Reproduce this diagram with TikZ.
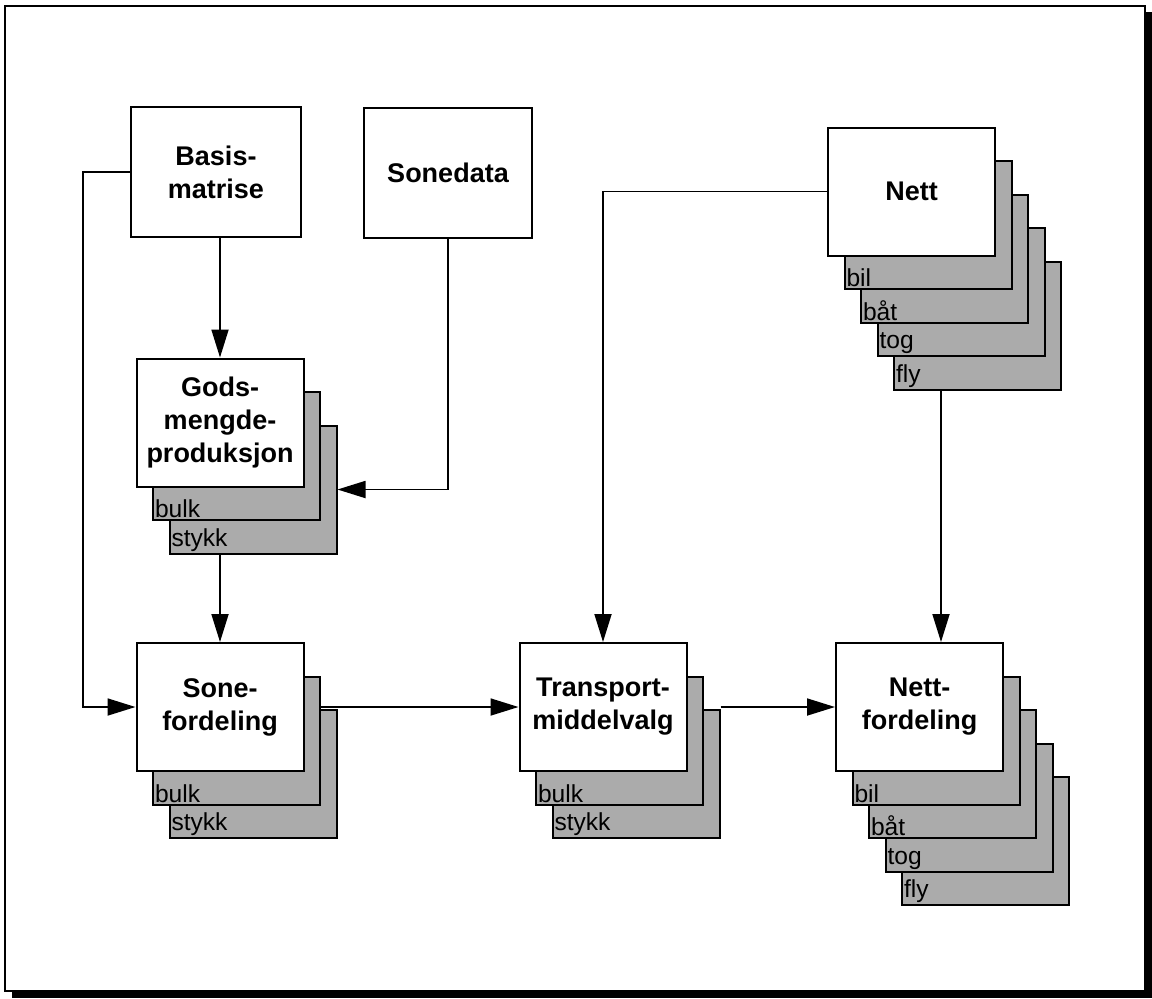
\documentclass[tikz,border=0pt]{standalone}
\usepackage{fontspec}
\setmainfont{Liberation Sans}
\usetikzlibrary{arrows.meta}
\begin{document}
\begin{tikzpicture}[x=0.5pt,y=-0.5pt,
  box/.style={draw=black, line width=1pt, fill=white, minimum width=83.5pt, minimum height=64pt, inner sep=0pt, align=center, font=\bfseries\fontsize{13.5}{16.5}\selectfont},
  layer/.style={draw=black, line width=1pt, fill=black!33, minimum width=83.5pt, minimum height=64pt, inner sep=0pt},
  tag/.style={anchor=south west, inner sep=1.3pt, font=\fontsize{12.3}{14}\selectfont},
  conn/.style={line width=0.9pt, -{Triangle[length=14pt,width=8.5pt]}},
  plain/.style={line width=0.9pt}]
\useasboundingbox (0,0) rectangle (1152,998);
% frame with shadow
\fill[black] (12,12) rectangle (1152,998);
\draw[line width=1.2pt, fill=white] (5,6) rectangle (1145,991);

% top boxes
\node[box, minimum width=85pt, minimum height=65pt] (basis) at (216,172) {Basis-\\matrise};
\node[box, minimum width=84pt, minimum height=65pt] (sonedata) at (448,173) {Sonedata};

% Gods stack
\node[layer] (gods3) at (253,489.5) {}; \node[tag] (gods3t) at (gods3.south west) {stykk};
\node[layer] (gods2) at (236.5,456) {}; \node[tag] (gods2t) at (gods2.south west) {bulk};
\node[box] (gods) at (220,422.5) {Gods-\\mengde-\\produksjon};

% Sone stack
\node[layer] (sone3) at (253,774) {}; \node[tag] (sone3t) at (sone3.south west) {stykk};
\node[layer] (sone2) at (236.5,740.5) {}; \node[tag] (sone2t) at (sone2.south west) {bulk};
\node[box] (sone) at (220,707) {Sone-\\fordeling};

% Transport stack
\node[layer] (tr3) at (636,774) {}; \node[tag] (tr3t) at (tr3.south west) {stykk};
\node[layer] (tr2) at (619.5,740.5) {}; \node[tag] (tr2t) at (tr2.south west) {bulk};
\node[box] (tr) at (603,707) {Transport-\\middelvalg};

% Nett stack
\node[layer] (nett5) at (977.5,325.5) {}; \node[tag] (nett5t) at (nett5.south west) {fly};
\node[layer] (nett4) at (961,292) {}; \node[tag] (nett4t) at (nett4.south west) {tog};
\node[layer] (nett3) at (944.5,258.5) {}; \node[tag] (nett3t) at (nett3.south west) {båt};
\node[layer] (nett2) at (928,225) {}; \node[tag] (nett2t) at (nett2.south west) {bil};
\node[box] (nett) at (911.5,191.5) {Nett};

% Nettfordeling stack
\node[layer] (nf5) at (985.5,841) {}; \node[tag] (nf5t) at (nf5.south west) {fly};
\node[layer] (nf4) at (969,807.5) {}; \node[tag] (nf4t) at (nf4.south west) {tog};
\node[layer] (nf3) at (952.5,774) {}; \node[tag] (nf3t) at (nf3.south west) {båt};
\node[layer] (nf2) at (936,740.5) {}; \node[tag] (nf2t) at (nf2.south west) {bil};
\node[box] (nf) at (919.5,707) {Nett-\\fordeling};

% helper coordinates
\coordinate (lx) at (83,0);
\coordinate (nx) at (941,0);

% connectors
\draw[conn] (gods.north |- basis.south) -- (gods.north);
\draw[conn] (basis.west) -- (basis.west -| lx) -- (lx |- sone.west) -- (sone.west);
\draw[conn] (sonedata.south) |- (gods3.east);
\draw[conn] (sone.north |- gods3.south) -- (sone.north);
\draw[conn] (sone.east -| sone2.east) -- (tr.west);
\draw[conn] (tr.east -| tr3.east) -- (nf.west);
\draw[conn] (nett.west) -| (tr.north);
\draw[conn] (nett5.south -| nx) -- (nf.north -| nx);
\end{tikzpicture}
\end{document}
